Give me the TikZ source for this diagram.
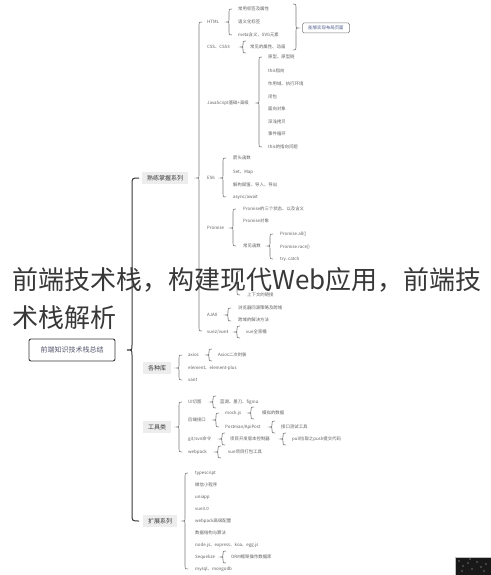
\documentclass[tikz,border=0pt]{standalone}
\usepackage{fontspec}
\setmainfont{Noto Sans CJK SC}
\definecolor{txt}{HTML}{606060}
\definecolor{ln}{HTML}{7a7a7a}
\definecolor{dk}{HTML}{383838}
\definecolor{lbl}{HTML}{EDEDED}
\definecolor{boxtxt}{HTML}{55556E}
\definecolor{bluetxt}{HTML}{4A5A8A}
\tikzset{
  leaf/.style={anchor=west, inner sep=0pt, font=\fontsize{4.4}{5}\selectfont, text=txt},
  branch/.style={anchor=west, inner xsep=5pt, inner ysep=3pt, fill=lbl, font=\fontsize{6}{7}\selectfont, text=dk},
  brc/.style={draw=ln, line width=0.6pt},
  mainbrc/.style={draw=dk, line width=1pt},
  rootbox/.style={draw=dk, line width=0.9pt, rounded corners=2pt, fill=white, minimum width=86pt, minimum height=22pt, inner sep=0pt, font=\fontsize{7}{8}\selectfont, text=boxtxt},
  notebox/.style={draw=ln, line width=0.5pt, rounded corners=1.5pt, fill=white, minimum width=47pt, minimum height=10pt, inner sep=0pt, font=\fontsize{4.4}{5}\selectfont, text=bluetxt},
  titletxt/.style={anchor=base west, inner sep=0pt, font=\fontsize{26}{30}\selectfont, text=dk}
}
% left brace: [style] x ytop ybot ymid
\newcommand\lbr[5][brc]{\draw[#1] ({#2+3},#3) .. controls (#2,#3) .. (#2,{#3+3}) -- (#2,{#5-2.5}) .. controls (#2,#5) .. ({#2-2.5},#5) .. controls (#2,#5) .. (#2,{#5+2.5}) -- (#2,{#4-3}) .. controls (#2,#4) .. ({#2+3},#4);}
% small single brace: x y
\newcommand\sbr[2]{\lbr{#1}{#2-6}{#2+6}{#2}}
\begin{document}
\begin{tikzpicture}[x=1pt,y=-1pt]
\useasboundingbox (0,0) rectangle (490,575);
\fill[white] (0,0) rectangle (490,575);

% root
\node[rootbox] (root) at (72,350) {前端知识技术栈总结};
\draw[mainbrc] (139,178) .. controls (132,178) .. (132,185) -- (132,345) .. controls (132,350) .. (127,350) .. controls (132,350) .. (132,355) -- (132,514) .. controls (132,521) .. (139,521);

% branches
\node[branch] (b1) at (142,178) {熟练掌握系列};
\node[branch] (b2) at (143,368) {各种库};
\node[branch] (b3) at (143,427) {工具类};
\node[branch] (b4) at (143,521) {扩展系列};

% ---------- 熟练掌握系列
\lbr{199}{22}{331}{178}
\node[leaf] (html) at (207,22) {HTML};
\lbr{229}{9}{35}{22}
\node[leaf] (h1) at (238,9) {常用标签及属性};
\node[leaf] (h2) at (238,22) {语义化标签};
\node[leaf] (h3) at (238,35) {meta含义、SVG元素};
\node[leaf] (css) at (207,47) {CSS、CSS3};
\sbr{243}{47}
\node[leaf] (c1) at (250,47) {常见的属性、动画};
% right bracket and note box
\draw[brc] (293,4) .. controls (296,4) .. (296,7) -- (296,25.5) .. controls (296,28) .. (298.5,28) .. controls (296,28) .. (296,30.5) -- (296,47) .. controls (296,50) .. (293,50);
\node[notebox] (note) at (326,28) {能够实现布局页面};

\node[leaf] (js) at (207,103) {JavaScript基础+高级};
\lbr{259}{57}{147}{103}
\node[leaf] (j1) at (268,57) {原型、原型链};
\node[leaf] (j2) at (268,71) {this指向};
\node[leaf] (j3) at (268,84) {作用域、执行环境};
\node[leaf] (j4) at (268,97) {闭包};
\node[leaf] (j5) at (268,109) {面向对象};
\node[leaf] (j6) at (268,122) {深浅拷贝};
\node[leaf] (j7) at (268,134) {事件循环};
\node[leaf] (j8) at (268,147) {this的指向问题};

\node[leaf] (es6) at (207,178) {ES6};
\lbr{223}{158}{197}{178}
\node[leaf] (e1) at (233,158) {箭头函数};
\node[leaf] (e2) at (233,172) {Set、Map};
\node[leaf] (e3) at (233,185) {解构赋值、导入、导出};
\node[leaf] (e4) at (233,197) {async/await};

\node[leaf] (prom) at (207,228) {Promise};
\lbr{233}{209}{246}{228}
\node[leaf] (p1) at (243,209) {Promise的三个状态、以及含义};
\node[leaf] (p2) at (243,221) {Promise对象};
\node[leaf] (p3) at (243,246) {常见函数};
\lbr{270}{234}{259}{246}
\node[leaf] (p31) at (280,234) {Promise.all()};
\node[leaf] (p32) at (280,247) {Promise.race()};
\node[leaf] (p33) at (280,259) {try..catch};

% group mostly hidden behind the title
\coordinate (scope) at (207,283);
\lbr{237}{271}{295}{283}
\node[leaf] (s3) at (247,295) {上下文的链接};

\node[leaf] (ajax) at (207,315) {AJAX};
\lbr{228}{308}{321}{315}
\node[leaf] (a1) at (238,308) {浏览器同源策略及跨域};
\node[leaf] (a2) at (238,320) {跨域的解决方法};

\node[leaf] (vue) at (207,332) {vue2/vue3};
\sbr{237}{332}
\node[leaf] (v1) at (246,332) {vue全家桶};

% ---------- 各种库
\lbr{179}{355}{380}{368}
\node[leaf] (l1) at (188,355) {axios};
\sbr{209}{355}
\node[leaf] (l11) at (218,355) {Axios二次封装};
\node[leaf] (l2) at (188,368) {element、element-plus};
\node[leaf] (l3) at (188,380) {vant};

% ---------- 工具类
\lbr{179}{402}{452}{427}
\node[leaf] (t1) at (188,402) {UI切图};
\sbr{213}{402}
\node[leaf] (t11) at (220,402) {蓝湖、墨刀、figma};
\node[leaf] (t2) at (188,420) {后端接口};
\lbr{216}{413}{427}{420}
\node[leaf] (t21) at (225,413) {mock.js};
\sbr{251}{413}
\node[leaf] (t211) at (262,413) {模拟的数据};
\node[leaf] (t22) at (225,427) {Postman/ApiPost};
\sbr{272}{427}
\node[leaf] (t221) at (281,427) {接口测试工具};
\node[leaf] (t3) at (188,439) {git/svn命令};
\sbr{222}{439}
\node[leaf] (t31) at (230,439) {项目开发版本控制器};
\sbr{283}{439}
\node[leaf] (t311) at (292,439) {pull拉取之push提交代码};
\node[leaf] (t4) at (188,452) {webpack};
\sbr{218}{452}
\node[leaf] (t41) at (228,452) {vue项目打包工具};

% ---------- 扩展系列
\lbr{185}{473}{569}{521}
\node[leaf] (x1) at (195,473) {typescript};
\node[leaf] (x2) at (195,485) {微信小程序};
\node[leaf] (x3) at (195,497) {uniapp};
\node[leaf] (x4) at (195,509) {vue3.0};
\node[leaf] (x5) at (195,521) {webpack高级配置};
\node[leaf] (x6) at (195,533) {数据结构与算法};
\node[leaf] (x7) at (195,545) {node.js、express、koa、egg.js};
\node[leaf] (x8) at (195,557) {Sequelize};
\sbr{223}{557}
\node[leaf] (x81) at (231,557) {ORM框架操作数据库};
\node[leaf] (x9) at (195,569) {mysql、mongodb};

% watermark corner
\fill[black!90, draw=black!25, line width=0.5pt] (455,557) rectangle (491,576);
\foreach \px/\py in {459/561,463/566,468/563,472/569,477/562,481/567,486/564,462/571,470/559,484/571}
  \fill[white!80!black] (\px,\py) circle (0.6);

% title overlay
\node[titletxt] (title1) at (12,289) {前端技术栈，构建现代Web应用，前端技};
\node[titletxt] (title2) at (12,327) {术栈解析};
\end{tikzpicture}
\end{document}
